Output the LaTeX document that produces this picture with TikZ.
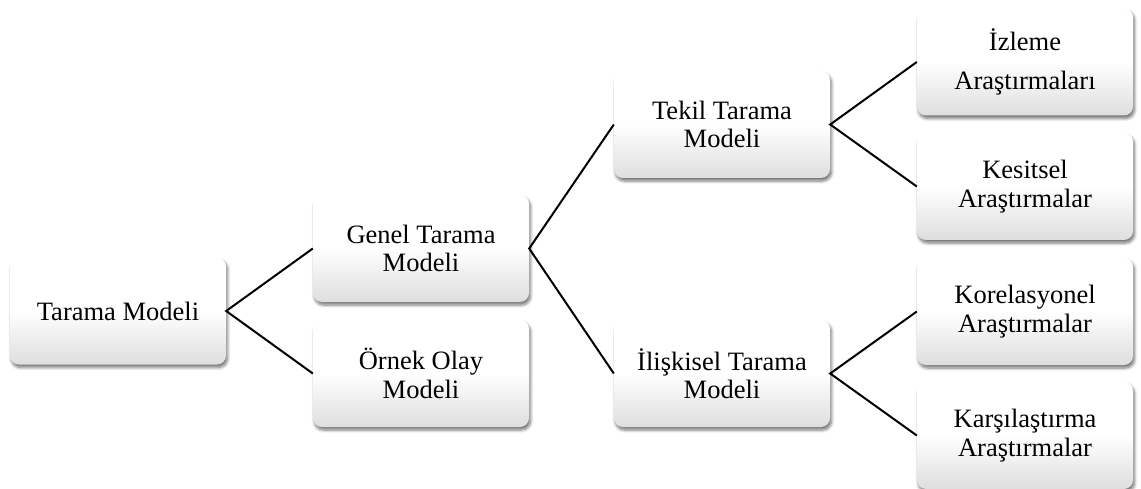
\documentclass[tikz,border=0pt]{standalone}
\usepackage{fontspec}
\setmainfont{Liberation Serif}
\usetikzlibrary{shadows.blur}
\begin{document}
\begin{tikzpicture}[x=1pt,y=-1pt,
  box/.style={rectangle, rounded corners=9pt, minimum width=216pt, minimum height=107pt,
    inner sep=0pt, align=center, font=\fontsize{26.5}{28.5}\selectfont,
    top color=white, bottom color=gray!26, middle color=white,
    blur shadow={shadow xshift=1.5pt, shadow yshift=-3pt, shadow opacity=55, shadow blur steps=6, shadow blur radius=3pt}},
  link/.style={line width=2pt, black}]
\useasboundingbox (0,0) rectangle (1141,489);
\node[box] (tm) at (118,311) {Tarama Modeli};
\node[box] (gt) at (421,248.5) {Genel Tarama\\Modeli};
\node[box] (oo) at (421,373.5) {Örnek Olay\\Modeli};
\node[box] (tt) at (722,124.5) {Tekil Tarama\\Modeli};
\node[box] (it) at (722,373.5) {İlişkisel Tarama\\Modeli};
\node[box] (iz) at (1025,62) {İzleme\\[10pt]Araştırmaları};
\node[box] (ke) at (1025,186.5) {Kesitsel\\Araştırmalar};
\node[box] (ko) at (1025,311.5) {Korelasyonel\\Araştırmalar};
\node[box] (ka) at (1025,435.5) {Karşılaştırma\\Araştırmalar};
\draw[link] (gt.west) -- (tm.east) -- (oo.west);
\draw[link] (tt.west) -- (gt.east) -- (it.west);
\draw[link] (iz.west) -- (tt.east) -- (ke.west);
\draw[link] (ko.west) -- (it.east) -- (ka.west);
\end{tikzpicture}
\end{document}
